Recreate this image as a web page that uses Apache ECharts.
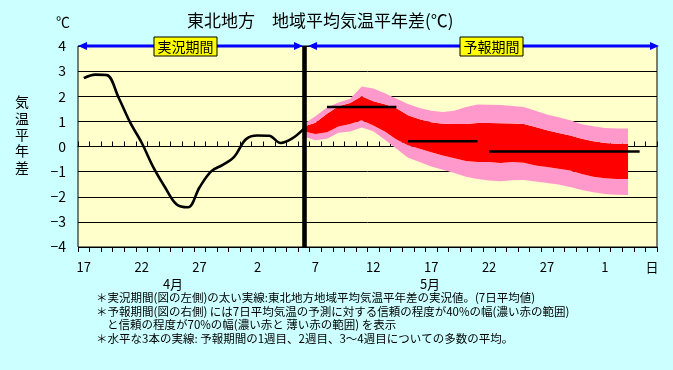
<!DOCTYPE html>
<html><head><meta charset="utf-8">
<script src="https://cdn.jsdelivr.net/npm/echarts@6/dist/echarts.min.js"></script>
<style>html,body{margin:0;padding:0;background:#ccffff}#c{width:673px;height:370px}</style>
</head><body><div id="c"></div>
<script>
// ---- data ----
const categories = ['4/17','4/18','4/19','4/20','4/21','4/22','4/23','4/24','4/25','4/26','4/27','4/28','4/29','4/30',
  '5/1','5/2','5/3','5/4','5/5','5/6','5/7','5/8','5/9','5/10','5/11','5/12','5/13','5/14','5/15','5/16',
  '5/17','5/18','5/19','5/20','5/21','5/22','5/23','5/24','5/25','5/26','5/27','5/28','5/29','5/30','5/31',
  '6/1','6/2','6/3','6/4','6/5'];
const yTicks = [-4,-3,-2,-1,0,1,2,3,4];
// observed 7-day mean anomaly, 4/17 .. 5/6
const observed = [2.72, 2.86, 2.84, 1.95, 0.96, 0.15, -0.82, -1.61, -2.30, -2.42, -1.62, -0.99, -0.73, -0.40, 0.29, 0.44, 0.43, 0.14, 0.32, 0.70];
// forecast bands, 5/6 .. 6/3
const bandStart = 19;
const pinkTop = [0.90,1.20,1.55,1.75,1.90,2.39,2.31,2.12,1.90,1.69,1.53,1.42,1.37,1.42,1.57,1.67,1.66,1.65,1.61,1.57,1.42,1.27,1.16,1.04,0.89,0.81,0.74,0.72,0.72];
const redTop  = [0.80,0.95,1.30,1.60,1.73,2.00,1.80,1.68,1.52,1.24,1.08,0.97,0.91,0.90,0.90,0.94,0.94,0.93,0.92,0.90,0.78,0.65,0.54,0.44,0.31,0.21,0.14,0.11,0.11];
const redBot  = [0.60,0.50,0.57,0.80,0.90,1.04,0.84,0.60,0.28,0.05,-0.09,-0.23,-0.36,-0.47,-0.58,-0.62,-0.62,-0.66,-0.62,-0.65,-0.76,-0.82,-0.89,-0.96,-1.09,-1.20,-1.26,-1.29,-1.29];
const pinkBot = [0.40,0.25,0.31,0.55,0.60,0.76,0.61,0.27,-0.09,-0.45,-0.62,-0.80,-0.93,-1.05,-1.20,-1.29,-1.35,-1.38,-1.34,-1.33,-1.39,-1.45,-1.51,-1.61,-1.73,-1.82,-1.89,-1.92,-1.93];
// ensemble mean for week1, week2, weeks 3-4
const meanValues = [1.57, 0.21, -0.20];
const meanStart = ['5/8','5/15','5/22'];
const meanEnd   = ['5/14','5/21','6/4'];
const boundaryDay = '5/6';

// ---- build ----
const pad = arr => categories.map((c,i)=> (i>=bandStart && i-bandStart<arr.length) ? arr[i-bandStart] : '-');
const diff = (a,b) => a.map((v,i)=> +(v-b[i]).toFixed(3));
const FONT = '"Noto Sans CJK JP", sans-serif';
const bandBase = {type:'line', stack:'band', stackStrategy:'all', symbol:'none', xAxisIndex:0,
  lineStyle:{width:0, opacity:0}, silent:true};
const series = [
  Object.assign({}, bandBase, {name:'base', data: pad(pinkBot)}),
  Object.assign({}, bandBase, {name:'p1', data: pad(diff(redBot,pinkBot)), areaStyle:{color:'#ff99cc', opacity:1}}),
  Object.assign({}, bandBase, {name:'r', data: pad(diff(redTop,redBot)), areaStyle:{color:'#ff0000', opacity:1}}),
  Object.assign({}, bandBase, {name:'p2', data: pad(diff(pinkTop,redTop)), areaStyle:{color:'#ff99cc', opacity:1}}),
  {type:'line', name:'obs', data: observed, symbol:'none', smooth:0.35, xAxisIndex:0,
   lineStyle:{color:'#000', width:2.6}, z:5,
   markLine:{silent:true, symbol:['none','none'], label:{show:false},
     lineStyle:{color:'#000', width:4.6, type:'solid'}, data:[{xAxis: boundaryDay}]}}
];
meanValues.forEach((v,k)=>{
  series.push({type:'line', data:[[meanStart[k], v],[meanEnd[k], v]], symbol:'none', xAxisIndex:0,
    lineStyle:{color:'#000', width:2.6}, z:6});
});

const blue = '#0000ff';
const gl = [];
function arrowSeg(x1,x2,y){
  gl.push({type:'line', shape:{x1:x1+4,y1:y,x2:x2-4,y2:y}, style:{stroke:blue, lineWidth:3}, z:100});
  gl.push({type:'polygon', shape:{points:[[x1,y],[x1+9,y-4],[x1+9,y+4]]}, style:{fill:blue}, z:100});
  gl.push({type:'polygon', shape:{points:[[x2,y],[x2-9,y-4],[x2-9,y+4]]}, style:{fill:blue}, z:100});
}
arrowSeg(78,303,46);
arrowSeg(308,659,46);
function box(x,txt){
  gl.push({type:'rect', shape:{x:x,y:37,width:63,height:19}, style:{fill:'#ffff00', stroke:'#000', lineWidth:1}, z:101});
  gl.push({type:'text', x:x+31.5, y:46.5, style:{text:txt, fill:'#000', font:'14px '+FONT, align:'center', verticalAlign:'middle'}, z:102});
}
box(154,'実況期間'); box(460,'予報期間');
function txt(t,x,y,size,align){
  gl.push({type:'text', x:x, y:y, style:{text:t, fill:'#000', font:size+'px '+FONT, align:align||'left', verticalAlign:'middle'}, z:100});
}
txt('℃', 63, 22, 14, 'center');
txt('東北地方　地域平均気温平年差(℃)', 187, 21, 17);
['気','温','平','年','差'].forEach((c,i)=>txt(c, 22, 102+i*16.3, 14, 'center'));
txt('日', 652, 267, 13, 'center');
txt('4月', 173, 284, 13, 'center');
txt('5月', 430, 284, 13, 'center');
txt('＊実況期間(図の左側)の太い実線:東北地方地域平均気温平年差の実況値。(7日平均値)', 96, 298, 11.5);
txt('＊予報期間(図の右側) には7日平均気温の予測に対する信頼の程度が40%の幅(濃い赤の範囲)', 96, 312, 11.5);
txt('と信頼の程度が70%の幅(濃い赤と 薄い赤の範囲) を表示', 107, 325, 11.5);
txt('＊水平な3本の実線: 予報期間の1週目、2週目、3～4週目についての多数の平均。', 96, 339, 11.5);

const chart = echarts.init(document.getElementById('c'), null, {renderer:'canvas'});
chart.setOption({
  animation:false,
  backgroundColor:'#ccffff',
  textStyle:{fontFamily:FONT},
  grid:{left:78, top:46, width:579, height:201, show:true, backgroundColor:'#ffffcc', borderColor:'#000', borderWidth:1},
  xAxis:[
    {type:'category', data:categories, boundaryGap:true, position:'bottom',
     axisLine:{onZero:true, lineStyle:{color:'#000', width:1}},
     axisTick:{show:true, inside:true, length:5, interval:0, lineStyle:{color:'#000', width:1}},
     axisLabel:{show:false}, splitLine:{show:false}},
    {type:'category', data:categories, boundaryGap:true, position:'bottom',
     axisLine:{onZero:true, show:false},
     axisTick:{show:true, inside:false, length:5, interval:0, lineStyle:{color:'#000', width:1}},
     axisLabel:{show:false}, splitLine:{show:false}},
    {type:'category', data:categories, boundaryGap:true, position:'bottom',
     axisLine:{onZero:false, show:false}, axisTick:{show:false},
     axisLabel:{show:true, interval:4, margin:14, color:'#000', fontSize:13, fontFamily:FONT,
       formatter: v => v.split('/')[1]},
     splitLine:{show:false}}
  ],
  yAxis:{type:'value', min:yTicks[0], max:yTicks[yTicks.length-1], interval:1,
    axisLine:{show:false}, axisTick:{show:false},
    axisLabel:{color:'#000', fontSize:14, margin:12, fontFamily:FONT,
      formatter: v => v<0 ? '−'+(-v) : String(v)},
    splitLine:{show:true, lineStyle:{color:'#000', width:1}}},
  series: series,
  graphic: gl
});
</script></body></html>
